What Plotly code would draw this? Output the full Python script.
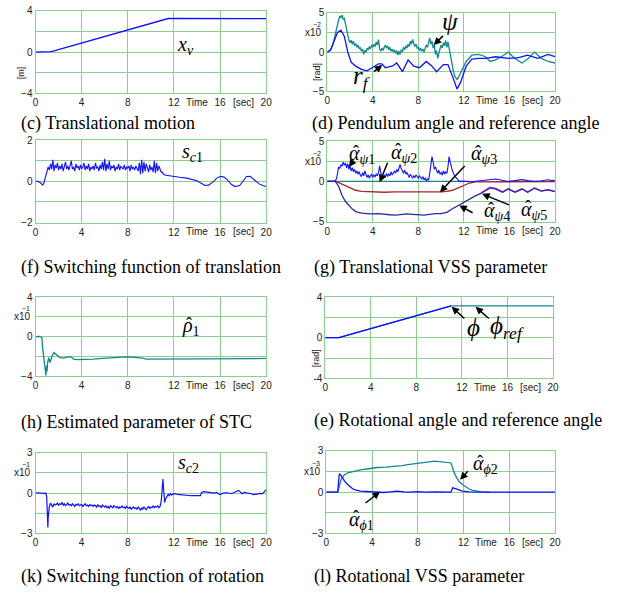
import numpy as np
import plotly.graph_objects as go

W, H = 626, 599

# ---------------- data ----------------
# (c) translational motion x_v [m]
xv_t = [0, 1.0, 1.3, 1.6, 2.0, 4.0, 6.0, 8.0, 10.0, 11.5, 12.0, 16.0, 20.0]
xv_v = [0, 0, 0.04, 0.12, 0.25, 0.88, 1.5, 2.15, 2.8, 3.26, 3.28, 3.28, 3.25]

# (d) pendulum angle psi (x10^-2 rad) and reference r_f
psi_dense_t = np.round(np.arange(0, 12.0, 0.1), 1)
psi_dense_v = [0, 0.02, 0.1, 0.3, 0.6, 1.0, 1.6, 2.3, 3.0, 3.6,
               4.1, 4.6, 4.4, 4.7, 4.2, 4.3, 3.6, 3.0, 2.0, 1.5,
               1.2, 1.5, 1.0, 1.4, 0.8, 1.1, 0.6, 0.9, 0.4, 0.6,
               0.1, 0.4, -0.3, 0.2, 0.0, 0.5, 0.3, 0.7, 0.4, 0.9,
               0.6, 1.0, 0.7, 1.3, 0.9, 1.6, 0.4, 0.1, 0.5, 0.2,
               0.6, 0.9, 0.5, 0.8, 0.3, 0.6, 0.1, 0.4, 0.0, 0.3,
               -0.2, 0.2, -0.4, 0.1, -0.3, 0.3, 0.0, 0.6, 0.3, 0.8,
               0.5, 1.0, 0.7, 1.4, 1.0, 1.6, 1.1, 0.7, 1.0, 0.5,
               0.6, 0.2, 0.5, 0.1, 0.4, 0.0, 0.5, 0.9, 0.6, 1.2,
               1.8, 1.0, 1.4, 0.5, 0.9, -0.3, 0.2, -0.8, 0.0, 0.4,
               0.9, 0.5, 1.2, 0.8, 1.5, 0.6, 1.3, 0.4, -0.5, -1.2,
               -2.0, -2.6, -3.1, -3.4, -3.5, -3.3, -3.0, -2.7, -2.3, -1.9]
psi_tail_t = [12.2, 12.7, 13.3, 13.9, 14.3, 14.8, 15.3, 15.9, 16.3, 17.1, 17.6, 18.2, 18.8, 19.4, 20.0]
psi_tail_v = [-1.2, -0.4, -0.3, -0.6, -1.2, -1.0, -0.6, 0.0, -0.6, -1.4, -0.9, 0.0, -0.8, -1.2, -1.4]

rf_t = [0, 0.3, 0.6, 0.9, 1.2, 1.5, 1.8, 2.1, 2.5, 3.0, 3.5, 4.0, 4.5, 4.8, 5.1, 5.4, 5.7, 6.1,
        6.6, 7.1, 7.6, 8.1, 8.7, 9.2, 9.6, 10.2, 10.6, 11.0, 11.4, 11.7, 12.2, 12.7, 13.3, 13.9,
        14.8, 15.9, 16.8, 17.6, 18.5, 19.4, 20.0]
rf_v = [0, 0.3, 1.4, 2.5, 2.8, 2.0, 0.0, -1.3, -1.8, -2.2, -2.4, -1.9, -1.5, -1.5, -2.0, -1.9, -1.8, -1.4,
        -2.5, -1.0, -1.8, -2.0, -1.2, -1.8, -2.5, -1.6, -1.6, -3.1, -4.7, -3.9, -1.8, -0.9, -0.8, -0.8,
        -0.6, -0.8, -0.7, -0.4, -0.8, -0.3, -0.6]

# (f) switching function of translation s_c1
sc1_head_t = [0, 0.2, 0.4, 0.5, 0.6, 0.7, 0.8, 0.9]
sc1_head_v = [0, 0.0, -0.05, -0.12, -0.17, -0.12, 0.1, 0.35]
sc1_dense_t = np.round(np.arange(1.0, 11.0, 0.1), 1)
sc1_dense_v = [0.45, 0.7, 0.55, 0.85, 0.6, 1.05, 0.5, 0.8, 0.65, 0.9,
               0.55, 0.75, 0.6, 0.85, 0.5, 0.7, 0.95, 0.6, 0.75, 0.55,
               0.8, 1.0, 0.6, 0.7, 0.5, 0.85, 0.65, 0.75, 0.55, 0.8,
               0.6, 0.7, 0.9, 0.55, 0.75, 0.6, 0.85, 0.5, 0.7, 0.6,
               0.75, 0.55, 0.9, 0.65, 0.7, 0.5, 0.8, 0.6, 0.95, 0.55,
               1.1, 0.5, 0.85, 0.6, 1.0, 0.55, 0.75, 0.65, 0.8, 0.5,
               0.7, 0.6, 0.85, 0.55, 0.75, 0.65, 0.6, 0.8, 0.55, 0.7,
               0.65, 0.75, 0.5, 0.8, 0.6, 0.7, 0.55, 0.75, 0.6, 0.5,
               0.9, 0.35, 1.05, 0.4, 0.95, 0.5, 0.85, 0.6, 0.45, 0.8,
               0.55, 0.7, 0.45, 1.0, 0.4, 0.9, 0.5, 0.75, 0.6, 0.45]
sc1_tail_t = [11.0, 11.1, 11.3, 11.6, 12.0, 12.5, 13.1, 13.6, 14.0, 14.4, 14.7, 15.0, 15.4, 15.7,
              16.0, 16.3, 16.6, 17.0, 17.3, 17.7, 18.0, 18.3, 18.6, 18.9, 19.2, 19.4, 19.7, 20.0]
sc1_tail_v = [0.45, 0.35, 0.3, 0.27, 0.22, 0.2, 0.16, 0.1, 0.03, -0.1, -0.2, -0.18, -0.02, 0.15,
              0.24, 0.22, 0.1, -0.15, -0.25, -0.2, 0.05, 0.24, 0.25, 0.1, -0.05, -0.12, -0.2, -0.25]

# (g) translational VSS parameters (x10^-2)
apsi1_dense_t = np.round(np.arange(0, 11.7, 0.1), 1)
apsi1_dense_v = [0, 0, 0, 0, 0, 0.05, 0.05, 0.1, 0.3, 1.0,
                 1.8, 1.6, 2.1, 1.9, 2.4, 2.0, 2.3, 1.7, 2.2, 1.5,
                 1.9, 1.3, 1.7, 1.2, 1.5, 1.0, 1.3, 0.9, 1.2, 0.8,
                 0.6, 1.1, 0.7, 1.3, 0.9, 0.5, 0.8, 0.4, 0.7, 0.9,
                 0.5, 0.8, 0.6, 0.9, 0.7, 1.1, 1.9, 0.8, 0.3, 0.6,
                 0.8, 0.5, 1.0, 0.6, 0.9, 0.7, 1.2, 0.8, 1.0, 1.3,
                 1.0, 1.5, 1.2, 1.8, 2.1, 1.6, 1.3, 1.0, 1.4, 0.9,
                 1.1, 0.7, 0.5, 0.9, 0.6, 0.4, 0.7, 0.5, 0.8, 0.6,
                 0.4, 0.7, 0.5, 0.3, 0.6, 0.2, 0.4, 0.1, 0.3, 0.2,
                 1.0, 2.2, 3.1, 2.4, 1.5, 1.8, 1.2, 1.0, 1.4, 0.9,
                 1.1, 0.8, 1.3, 0.9, 1.2, 1.0, 1.8, 3.1, 2.4, 1.7,
                 1.3, 1.0, 0.6, 0.5, 0.3, 0.1, 0.0]
apsi1_tail_t = [12.0, 12.5, 13.0, 13.6, 14.2, 14.8, 15.3, 15.9, 16.5, 17.1, 17.6, 18.2, 18.8, 19.4, 19.7, 20.0]
apsi1_tail_v = [0.0, -0.05, 0.02, 0.08, 0.2, 0.3, 0.15, 0.0, 0.1, 0.22, 0.1, 0.0, 0.08, 0.2, 0.1, 0.15]

apsi2_t = [0, 4.0, 8.0, 12.5]
apsi2_v = [0, 0.02, 0.0, 0.0]

apsi3_t = [0, 0.7, 1.0, 1.5, 2.0, 2.5, 3.0, 4.0, 5.0, 6.0, 7.0, 8.0, 9.0, 10.0, 10.5, 11.0, 11.5,
           12.0, 12.5, 13.0, 14.0, 16.0, 20.0]
apsi3_v = [0, 0, -0.15, -0.5, -0.85, -1.1, -1.25, -1.33, -1.35, -1.3, -1.32, -1.3, -1.33, -1.3, -1.25,
           -1.1, -0.8, -0.45, -0.2, -0.05, -0.05, -0.05, -0.03]

apsi4_t = [0, 0.7, 1.0, 1.3, 1.6, 1.9, 2.2, 2.5, 3.0, 3.5, 4.0, 4.5, 5.0, 5.5, 6.0, 6.5, 7.0, 7.5,
           8.0, 8.5, 9.0, 9.5, 10.0, 10.5, 11.0, 11.5, 12.0, 12.5, 13.0, 13.5, 14.0, 14.3, 14.8,
           15.4, 15.9, 16.5, 17.1, 17.6, 18.2, 18.8, 19.4, 20.0]
apsi4_v = [0, 0, -0.6, -1.75, -2.5, -3.0, -3.45, -3.75, -3.95, -4.0, -4.05, -4.0, -4.1, -4.15, -4.2,
           -4.1, -4.05, -4.1, -4.15, -4.2, -4.1, -4.0, -4.0, -3.85, -3.4, -3.0, -2.6, -2.15, -1.8,
           -1.5, -1.1, -0.8, -0.95, -1.35, -0.95, -1.35, -0.95, -1.35, -0.85, -1.2, -1.05, -1.26]

apsi5_t = [13.5, 14.0, 14.3, 14.8, 15.4, 15.9, 16.5, 17.1, 17.6, 18.2, 18.8, 19.4, 20.0]
apsi5_v = [-1.42, -1.02, -0.72, -0.88, -1.3, -0.9, -1.29, -0.92, -1.32, -0.82, -1.17, -1.02, -1.23]

# (h) estimated parameter of STC rho1 (x10^-1)
rho_t = [0, 0.2, 0.3, 0.45, 0.55, 0.62, 0.7, 0.78, 0.85, 0.9, 0.95, 1.0, 1.05, 1.15, 1.25, 1.35,
         1.45, 1.6, 1.75, 1.9, 2.1, 2.4, 2.7, 2.9, 3.1, 3.3, 3.6, 4.0, 4.5, 5.0, 5.5, 6.0, 6.5,
         7.0, 7.5, 8.0, 8.5, 9.0, 9.3, 9.6, 10.0, 11.0, 12.0, 13.0, 14.0, 15.0, 16.0, 17.0, 18.0,
         19.0, 20.0]
rho_v = [0, 0.05, 0.03, 0, -0.1, -1.2, -1.9, -2.6, -3.3, -3.9, -2.9, -3.5, -2.6, -2.1, -2.6, -2.2,
         -1.9, -1.6, -1.75, -1.95, -2.1, -2.15, -2.05, -2.0, -2.05, -2.25, -2.3, -2.3, -2.28, -2.25,
         -2.2, -2.15, -2.1, -2.08, -2.05, -2.03, -2.05, -2.1, -2.15, -2.25, -2.25, -2.26, -2.25,
         -2.27, -2.25, -2.24, -2.22, -2.22, -2.21, -2.2, -2.18]

# (e) rotational angle phi and reference phi_ref [rad]
phi_t = [0, 1.2, 11.05]
phi_v = [0, 0, 3.14]
phiref_t = [0, 1.2, 11.05, 20.0]
phiref_v = [0, 0, 3.14, 3.14]

# (k) switching function of rotation s_c2 (x10^-1)
sc2_head_t = [0, 0.3, 0.6, 0.9, 0.97, 1.0, 1.03, 1.07, 1.1, 1.14]
sc2_head_v = [0, 0.02, -0.02, 0.0, -0.3, -1.2, -2.0, -2.57, -1.8, -1.05]
sc2_dense_t = np.round(np.arange(1.2, 10.9, 0.1), 1)
sc2_dense_v = [-1.0, -0.75, -0.95, -1.05, -0.8, -0.9, -0.85, -0.75,
               -0.9, -0.8, -0.85, -0.7, -0.9, -0.8, -0.95, -0.85, -0.75, -0.9,
               -0.85, -0.95, -0.8, -0.9, -1.0, -0.85, -0.9, -0.8, -0.95, -0.9,
               -0.85, -1.0, -0.9, -0.8, -0.95, -0.9, -1.0, -0.85, -0.95, -0.9,
               -1.0, -0.9, -0.95, -1.05, -0.85, -1.0, -0.95, -1.1, -0.9, -1.0,
               -1.05, -0.95, -1.1, -1.0, -1.15, -0.95, -1.05, -1.1, -0.95, -1.05,
               -1.1, -1.0, -1.15, -1.05, -1.1, -0.95, -1.1, -1.05, -1.15, -1.0,
               -1.1, -1.15, -1.05, -1.2, -1.1, -1.05, -1.15, -1.1, -1.2, -1.05,
               -1.15, -1.3, -1.1, -1.2, -1.05, -1.15, -1.25, -1.1, -1.0, -1.15,
               -1.05, -1.1, -0.95, -1.1, -1.0, -1.05, -0.95, -1.1, -1.0]
sc2_tail_t = [10.9, 11.0, 11.05, 11.1, 11.2, 11.3, 11.4, 11.5, 11.6, 11.7, 11.8, 12.0, 12.3, 12.6,
              13.0, 13.5, 14.3, 14.4, 14.6, 14.9, 15.2, 15.5, 15.7, 16.0, 16.3, 16.6, 17.0, 17.3,
              17.6, 17.8, 17.9, 18.1, 18.4, 18.7, 18.9, 19.2, 19.5, 19.7, 19.85, 20.0]
sc2_tail_v = [-0.6, 0.9, 1.05, 0.3, -0.7, -0.4, -0.2, -0.1, -0.2, -0.05, -0.15, -0.05, -0.1, -0.12,
              -0.2, -0.2, -0.2, 0.05, 0.1, 0.08, 0.05, 0.0, 0.05, -0.12, 0.0, 0.02, -0.05, 0.1,
              0.2, 0.05, -0.05, 0.05, 0.02, -0.05, -0.12, -0.05, -0.02, -0.05, 0.15, 0.25]

# (l) rotational VSS parameters (x10^-3)
aphi1_t = [0, 1.0, 1.08, 1.15, 1.3, 1.43, 1.6, 1.87, 2.1, 2.3, 2.6, 3.0, 3.5, 4.4, 5.0, 5.6, 6.2,
           6.8, 7.3, 8.0, 8.6, 9.6, 10.3, 10.9, 11.0, 11.05, 11.3, 11.6, 11.9, 12.5, 13.0, 14.0,
           16.0, 18.0, 20.0]
aphi1_v = [0, 0, 0.8, 1.33, 1.2, 1.02, 0.8, 0.55, 0.38, 0.24, 0.14, 0.07, 0.04, 0.0, -0.03, 0.02,
           0.07, 0.02, 0.0, 0.03, 0.0, 0.02, 0.0, 0.0, 0.2, 0.31, 0.25, 0.15, 0.07, 0.01, 0, 0,
           0, 0, 0]
aphi2_t = [0, 1.0, 1.15, 1.29, 1.45, 1.58, 1.87, 2.3, 3.0, 3.7, 4.45, 5.2, 5.9, 6.6, 7.3, 8.0,
           8.75, 9.2, 9.5, 9.9, 10.2, 10.6, 10.9, 11.0, 11.1, 11.2, 11.4, 11.6, 11.9, 12.2, 12.5,
           12.8, 13.2, 13.6, 14.3]
aphi2_v = [0, 0, 0.45, 0.9, 1.1, 1.26, 1.4, 1.5, 1.62, 1.7, 1.79, 1.82, 1.86, 1.93, 2.02, 2.08,
           2.17, 2.22, 2.26, 2.22, 2.2, 2.16, 2.12, 1.9, 1.6, 1.38, 1.05, 0.79, 0.55, 0.36, 0.22,
           0.12, 0.06, 0.02, 0.0]

x_tickvals = [0, 4, 8, 12, 16, 20]
x_ticktext = ["0", "4", "8", "12", "16", "20"]

# ---------------- styling ----------------
GRID = "#8fcc8f"
BLUE = "#1010ff"
TEAL = "#138a8a"
RED = "#a42a2a"
NAVY = "#2a2aa0"
MAG = "#e020e0"
TICKFONT = dict(family="Liberation Sans", size=10, color="#222")
CAPFONT = dict(family="Liberation Serif", size=18, color="black")
MATHFONT = dict(family="Liberation Serif", size=20, color="black")
BIGMATH = dict(family="Liberation Serif", size=25, color="black")


def xdom(l, r):
    return [l / W, r / W]


def ydom(t, b):
    return [1 - b / H, 1 - t / H]


panels = [
    dict(px=(33, 267, 5, 89), yr=4, yt=["−4", "0", "4"], mult=None, unit=("[m]", -15)),
    dict(px=(329, 560, 7, 87), yr=5, yt=["−5", "0", "5"], mult="−2", unit=("[rad]", -11)),
    dict(px=(33, 267, 137, 221), yr=2, yt=["−2", "0", "2"], mult=None, unit=None),
    dict(px=(329, 560, 138, 220), yr=5, yt=["−5", "0", "5"], mult="−2", unit=None),
    dict(px=(33, 267, 297, 378), yr=4, yt=["−4", "0", "4"], mult="−1", unit=None),
    dict(px=(327, 558, 297, 380), yr=4, yt=["-4", "0", "4"], mult=None, unit=("[rad]", -9)),
    dict(px=(33, 267, 456, 538), yr=3, yt=["−3", "0", "3"], mult="−1", unit=None),
    dict(px=(328, 560, 454, 538), yr=3, yt=["−3", "0", "3"], mult="−3", unit=None),
]

fig = go.Figure()
layout = dict(width=W, height=H, margin=dict(l=0, r=0, t=0, b=0),
              paper_bgcolor="white", plot_bgcolor="white", showlegend=False)
annotations = []


def ax_name(i):
    return "" if i == 1 else str(i)


for i, p in enumerate(panels, start=1):
    l, r, t, b = p["px"]
    yr = p["yr"]
    s = ax_name(i)
    layout["xaxis" + s] = dict(domain=xdom(l, r), anchor="y" + s, range=[0, 20],
                               tickvals=x_tickvals, ticktext=x_ticktext, showgrid=True,
                               gridcolor=GRID, gridwidth=1, showline=True, linecolor=GRID,
                               linewidth=1, mirror=True, zeroline=False, ticks="",
                               tickfont=TICKFONT, fixedrange=True)
    layout["yaxis" + s] = dict(domain=ydom(t, b), anchor="x" + s, range=[-yr, yr],
                               tickvals=[-yr, 0, yr], ticktext=p["yt"],
                               minor=dict(tickvals=[-yr / 2, yr / 2], showgrid=True,
                                          gridcolor=GRID, gridwidth=1, ticks=""),
                               showgrid=True, gridcolor=GRID, gridwidth=1, showline=True,
                               linecolor=GRID, linewidth=1, mirror=True, zeroline=False,
                               ticks="", tickfont=TICKFONT, fixedrange=True)
    for xv, txt in ((14, "Time"), (18, "[sec]")):
        annotations.append(dict(x=xv, xref="x" + s, y=0, yref="y" + s + " domain",
                                yanchor="middle", yshift=-9, text=txt, showarrow=False,
                                font=TICKFONT))
    if p["mult"]:
        annotations.append(dict(x=0, xref="x" + s + " domain", xanchor="right", xshift=-3,
                                y=yr / 2, yref="y" + s, text="x10", showarrow=False,
                                font=TICKFONT))
        annotations.append(dict(x=0, xref="x" + s + " domain", xanchor="right", xshift=-4,
                                y=yr / 2, yref="y" + s, yshift=8, text=p["mult"],
                                showarrow=False, font=dict(TICKFONT, size=7)))
    if p["unit"]:
        annotations.append(dict(x=0, xref="x" + s + " domain", xanchor="center",
                                xshift=p["unit"][1], y=-yr / 2, yref="y" + s, text=p["unit"][0],
                                textangle=-90, showarrow=False, font=dict(TICKFONT, size=9)))


def add_line(i, x, y, color, width=1.3):
    s = ax_name(i)
    fig.add_trace(go.Scatter(x=list(x), y=list(y), mode="lines", xaxis="x" + s, yaxis="y" + s,
                             line=dict(color=color, width=width), hoverinfo="skip"))


add_line(1, xv_t, xv_v, BLUE)
add_line(2, list(psi_dense_t) + psi_tail_t, psi_dense_v + psi_tail_v, TEAL)
add_line(2, rf_t, rf_v, BLUE)
add_line(3, sc1_head_t + list(sc1_dense_t) + sc1_tail_t, sc1_head_v + sc1_dense_v + sc1_tail_v, BLUE, 1.1)
add_line(4, apsi2_t, apsi2_v, TEAL)
add_line(4, apsi3_t, apsi3_v, RED)
add_line(4, apsi5_t, apsi5_v, MAG)
add_line(4, apsi4_t, apsi4_v, NAVY)
add_line(4, list(apsi1_dense_t) + apsi1_tail_t, apsi1_dense_v + apsi1_tail_v, BLUE, 1.1)
add_line(5, rho_t, rho_v, TEAL)
add_line(6, phiref_t, phiref_v, TEAL)
add_line(6, phi_t, phi_v, BLUE)
add_line(7, sc2_head_t + list(sc2_dense_t) + sc2_tail_t, sc2_head_v + sc2_dense_v + sc2_tail_v, BLUE, 1.2)
add_line(8, aphi2_t, aphi2_v, TEAL)
add_line(8, aphi1_t, aphi1_v, BLUE)

captions = [
    (16, 120, "(c) Translational motion"),
    (311, 120, "(d) Pendulum angle and reference angle"),
    (16, 267, "(f) Switching function of translation"),
    (313, 267, "(g) Translational VSS parameter"),
    (16, 425, "(h) Estimated parameter of STC"),
    (313, 423, "(e) Rotational angle and reference angle"),
    (16, 582, "(k) Switching function of rotation"),
    (313, 582, "(l) Rotational VSS parameter"),
]
for cx, cy, txt in captions:
    annotations.append(dict(x=cx / W, y=1 - cy / H, xref="paper", yref="paper", xanchor="left",
                            yanchor="middle", text=txt, showarrow=False, font=CAPFONT))

labels = [
    (1, 13.0, 0.6, "<i>x</i><sub><i>v</i></sub>", MATHFONT),
    (2, 10.8, 3.9, "<i>ψ</i>", BIGMATH),
    (2, 3.0, -3.3, "<i>r</i><sub><i>f</i></sub>", BIGMATH),
    (3, 13.6, 1.4, "<i>s</i><sub><i>c</i>1</sub>", MATHFONT),
    (6, 13.0, 1.0, "<i>ϕ</i>", BIGMATH),
    (6, 16.0, 1.0, "<i>ϕ</i><sub><i>ref</i></sub>", BIGMATH),
    (7, 13.3, 2.2, "<i>s</i><sub><i>c</i>2</sub>", MATHFONT),
]
for i, x, y, txt, fnt in labels:
    s = ax_name(i)
    annotations.append(dict(x=x, y=y, xref="x" + s, yref="y" + s, text=txt, showarrow=False,
                            font=fnt))

hat_labels = [
    (4, 1.72, 3.3, "α", "<sub><i>ψ</i>1</sub>"),
    (4, 5.45, 3.5, "α", "<sub><i>ψ</i>2</sub>"),
    (4, 12.48, 3.3, "α", "<sub><i>ψ</i>3</sub>"),
    (4, 13.63, -3.8, "α", "<sub><i>ψ</i>4</sub>"),
    (4, 16.84, -3.6, "α", "<sub><i>ψ</i>5</sub>"),
    (5, 12.5, 1.0, "ρ", "<sub>1</sub>"),
    (8, 12.68, 2.0, "α", "<sub><i>ϕ</i>2</sub>"),
    (8, 1.78, -2.07, "α", "<sub><i>ϕ</i>1</sub>"),
]
for i, x, y, base, sub in hat_labels:
    s = ax_name(i)
    annotations.append(dict(x=x, y=y, xref="x" + s, yref="y" + s, xanchor="left",
                            text="<i>" + base + "</i>" + sub, showarrow=False, font=MATHFONT))
    annotations.append(dict(x=x, y=y, xref="x" + s, yref="y" + s, xanchor="left",
                            xshift=4, yshift=3, text="ˆ", showarrow=False,
                            font=dict(MATHFONT, size=18)))

arrows = [
    (2, 10.3, 2.25, 9.35, 0.9),
    (2, 3.97, -2.66, 4.83, -1.64),
    (4, 2.4, 2.8, 1.9, 1.8),
    (4, 5.35, 2.5, 4.6, -0.1),
    (4, 12.2, 2.1, 9.9, -1.34),
    (4, 12.9, -4.0, 11.6, -3.0),
    (4, 16.1, -3.0, 13.6, -1.55),
    (6, 12.35, 1.76, 11.1, 3.04),
    (6, 14.5, 1.76, 13.2, 3.04),
    (8, 12.5, 1.62, 11.7, 0.9),
    (8, 3.3, -0.88, 4.7, 0.02),
]
for i, tx, ty, hx, hy in arrows:
    s = ax_name(i)
    annotations.append(dict(x=hx, y=hy, ax=tx, ay=ty, xref="x" + s, yref="y" + s,
                            axref="x" + s, ayref="y" + s, text="", showarrow=True,
                            arrowhead=2, arrowsize=1, arrowwidth=1.5, arrowcolor="black"))

layout["annotations"] = annotations
fig.update_layout(**layout)
fig.write_html("out.html",
               config={"displayModeBar": False},
               post_script="document.body.style.margin='0px';"
                           "document.documentElement.style.overflow='hidden';")
